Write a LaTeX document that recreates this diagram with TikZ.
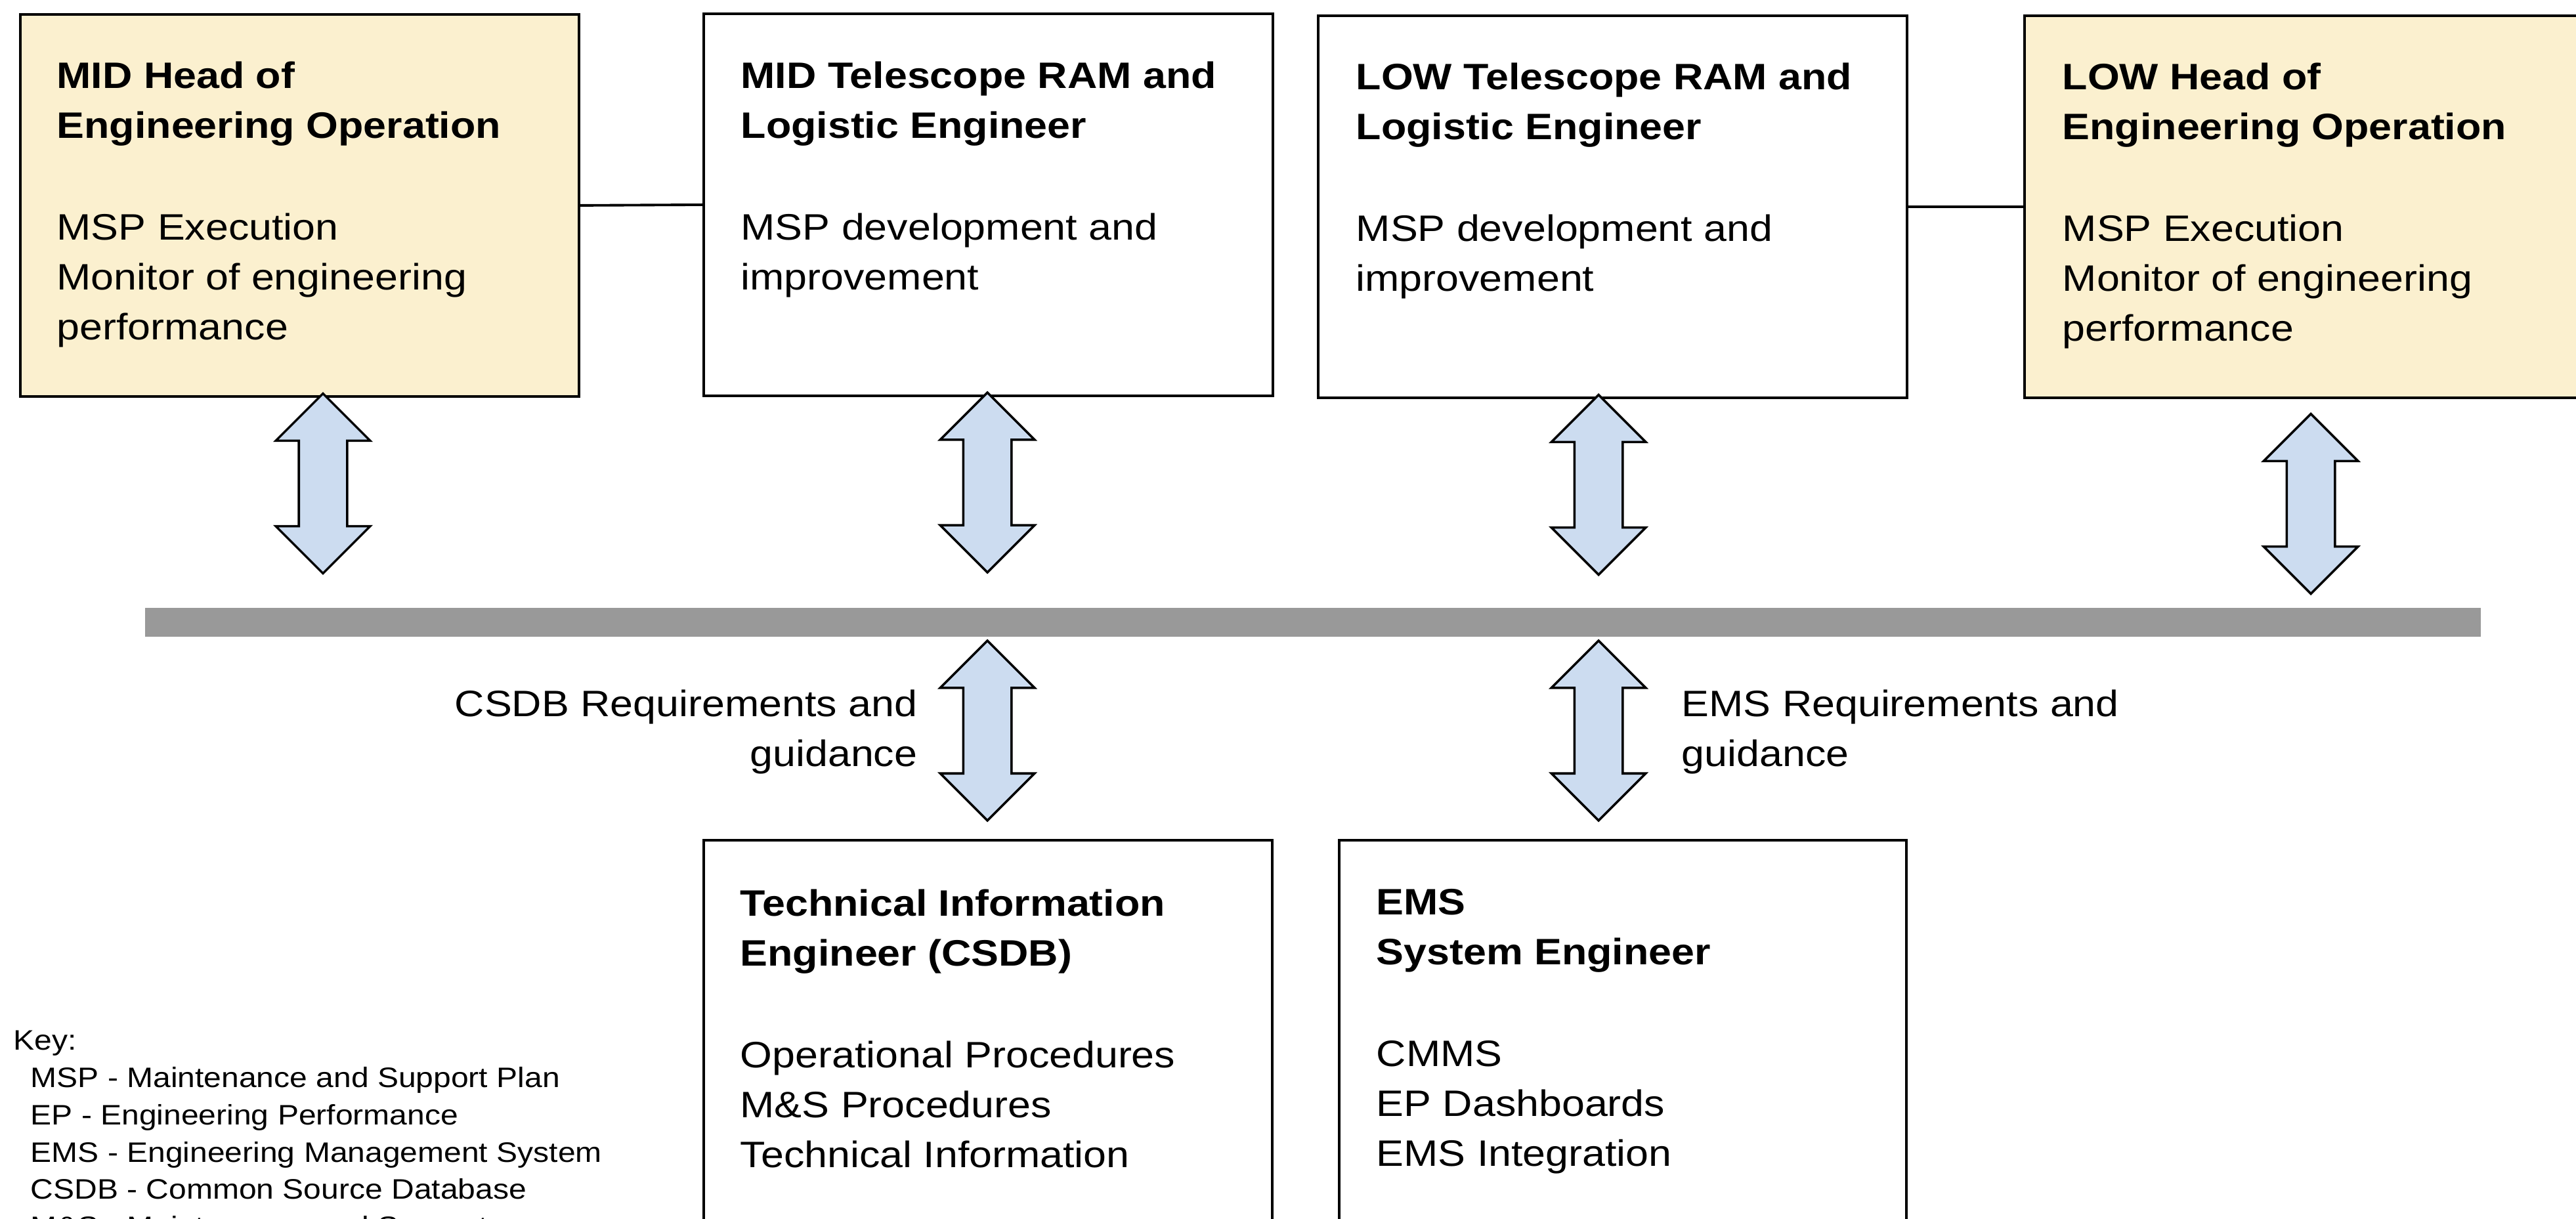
\documentclass[tikz,border=0pt]{standalone}
\usepackage{fontspec}
\setmainfont{Liberation Sans}[FakeStretch=1.12]
\usetikzlibrary{shapes.arrows,calc}
\definecolor{headyellow}{HTML}{FBF0CF}
\definecolor{arrowblue}{HTML}{CCDCF0}
\definecolor{bargray}{HTML}{999999}
\tikzset{basic/.style={draw,line width=1.1pt,rectangle,anchor=north west,
                       inner sep=0pt,minimum height=5.82cm}}
\tikzset{headbox/.style={basic,fill=headyellow}}
\tikzset{rolebox/.style={basic,fill=white}}
\tikzset{boxtext/.style={anchor=north west,align=left,inner sep=0pt,
                         font=\fontsize{15.94}{21.6}\selectfont}}
\tikzset{keytext/.style={boxtext,font=\fontsize{12.2}{16.2}\selectfont}}
\tikzset{dblarrow/.style={double arrow,draw,line width=1pt,fill=arrowblue,
                          rotate=90,minimum height=2.74cm,minimum width=0pt,
                          inner xsep=0pt,inner ysep=0.35cm,
                          double arrow head extend=0.35cm}}

\begin{document}
\begin{tikzpicture}[x=1cm,y=-1cm]
    \useasboundingbox (0,0) rectangle (39.24,18.57);
    \clip (0,0) rectangle (39.24,18.57);
    % top row
    \node[headbox,minimum width=8.51cm] (midhead) at (0.29,0.20) {};
    \node[rolebox,minimum width=8.67cm] (midram) at (10.70,0.19) {};
    \node[rolebox,minimum width=8.97cm] (lowram) at (20.06,0.22) {};
    \node[headbox,minimum width=8.80cm] (lowhead) at (30.82,0.22) {};
    \draw[line width=1.1pt] (midhead.east) -- (midram.west);
    \draw[line width=1.1pt] (lowram.east) -- (lowhead.west);
    \node[boxtext] (midheadtext) at ($(midhead.north west)+(0.57,0.73)$)
        {\textbf{MID Head of}\\\textbf{Engineering Operation}\\[22.5pt]
         MSP Execution\\Monitor of engineering\\performance};
    \node[boxtext] (midramtext) at ($(midram.north west)+(0.58,0.74)$)
        {\textbf{MID Telescope RAM and}\\\textbf{Logistic Engineer}\\[22.5pt]
         MSP development and\\improvement};
    \node[boxtext] (lowramtext) at ($(lowram.north west)+(0.59,0.73)$)
        {\textbf{LOW Telescope RAM and}\\\textbf{Logistic Engineer}\\[22.5pt]
         MSP development and\\improvement};
    \node[boxtext] (lowheadtext) at ($(lowhead.north west)+(0.59,0.73)$)
        {\textbf{LOW Head of}\\\textbf{Engineering Operation}\\[22.5pt]
         MSP Execution\\Monitor of engineering\\performance};
    % bar and arrows
    \node[fill=bargray,inner sep=0pt,anchor=north west,minimum width=35.58cm,
          minimum height=0.44cm] (bar) at (2.20,9.25) {};
    \foreach \x/\y [count=\i] in {4.92/7.365,15.04/7.35,24.35/7.385,35.20/7.675}{%
        \node[dblarrow] (up\i) at (\x,\y) {};
    }
    \foreach \x [count=\i] in {15.04,24.35}{%
        \node[dblarrow] (down\i) at (\x,11.13) {};
    }
    \node[boxtext,anchor=north east,align=right] (csdblabel) at (13.98,10.50)
        {CSDB Requirements and\\guidance};
    \node[boxtext] (emslabel) at (25.61,10.50) {EMS Requirements and\\guidance};
    % bottom row
    \node[rolebox,minimum width=8.66cm,minimum height=7cm] (techinfo) at (10.70,12.78) {};
    \node[rolebox,minimum width=8.64cm,minimum height=7cm] (emseng) at (20.38,12.78) {};
    \node[boxtext] (techinfotext) at ($(techinfo.north west)+(0.57,0.76)$)
        {\textbf{Technical Information}\\\textbf{Engineer (CSDB)}\\[22.5pt]
         Operational Procedures\\M\&S Procedures\\Technical Information};
    \node[boxtext] (emsengtext) at ($(emseng.north west)+(0.58,0.76)$)
        {\textbf{EMS}\\\textbf{System Engineer}\\[22.5pt]
         CMMS\\EP Dashboards\\EMS Integration};
    % Key
    \node[keytext] (key) at (0.20,15.69)
        {Key:\\
         \hspace*{0.26cm}MSP - Maintenance and Support Plan\\
         \hspace*{0.26cm}EP - Engineering Performance\\
         \hspace*{0.26cm}EMS - Engineering Management System\\
         \hspace*{0.26cm}CSDB - Common Source Database\\
         \hspace*{0.26cm}M\&S - Maintenance and Support};
\end{tikzpicture}
\end{document}
